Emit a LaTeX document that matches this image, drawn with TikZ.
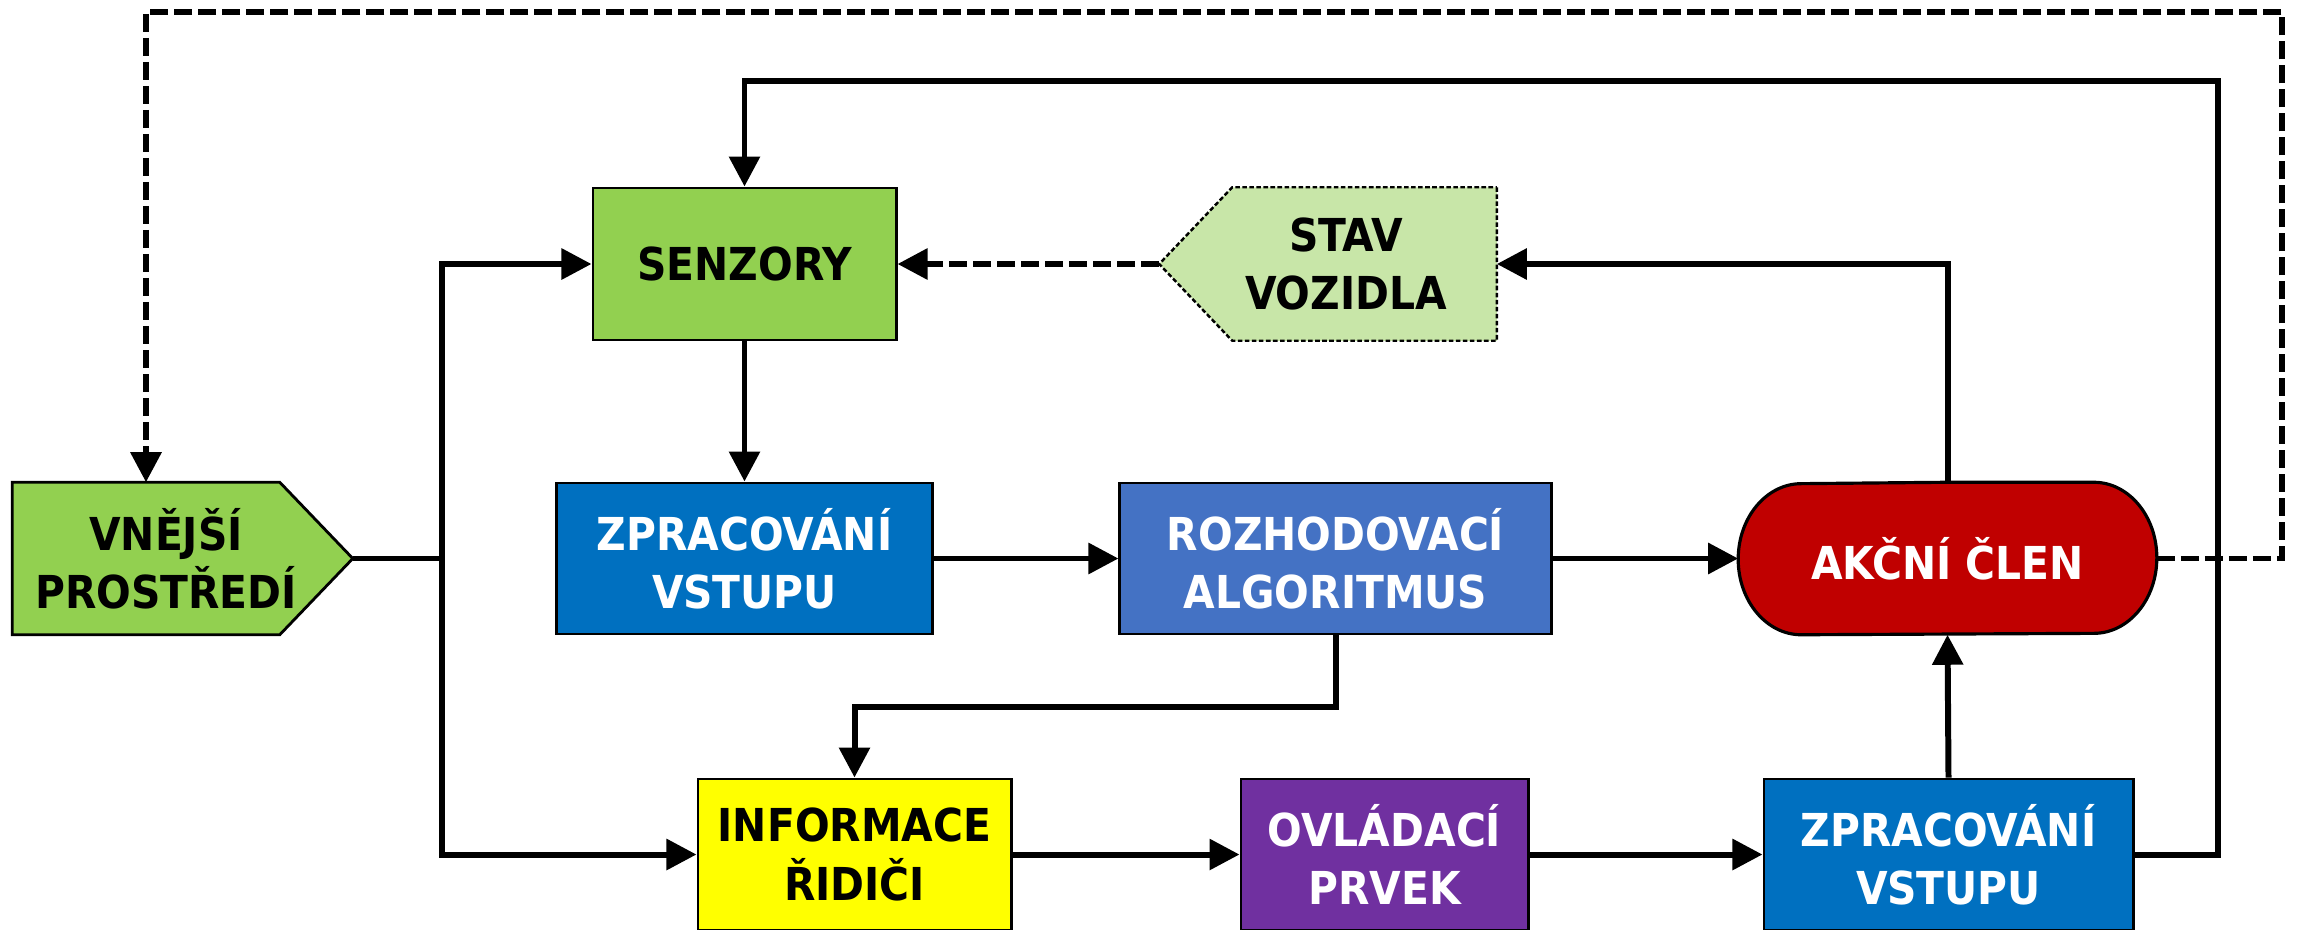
\documentclass[tikz,border=0pt]{standalone}
\usepackage{fontspec}
\setmainfont{DejaVu Sans Condensed Bold}
\usetikzlibrary{arrows.meta,backgrounds}

\definecolor{sensgreen}{HTML}{92D050}
\definecolor{stategreen}{HTML}{C8E6A8}
\definecolor{procblue}{HTML}{0070C0}
\definecolor{algblue}{HTML}{4472C4}
\definecolor{actred}{HTML}{C00000}
\definecolor{infoyellow}{HTML}{FFFF00}
\definecolor{ctrlpurple}{HTML}{7030A0}

\newcommand\diagfont{\fontsize{12.9pt}{16.6pt}\selectfont}

\tikzset{
  box/.style={draw=black, line width=0.8pt, inner sep=0pt, minimum height=1.51cm,
              align=center, font=\diagfont},
  ghost/.style={inner sep=0pt, minimum height=1.51cm},
  label text/.style={inner sep=0pt, align=center, font=\diagfont},
  conn/.style={line width=1.7pt, -{Triangle[length=0.3cm,width=0.3cm]}},
  dconn/.style={conn, dash pattern=on 0.18cm off 0.06cm},
  plain/.style={line width=1.7pt},
}

\begin{document}
\begin{tikzpicture}[x=0.01cm, y=0.01cm]
\useasboundingbox (0,0) rectangle (2297,929);

% top row
\node[box, fill=sensgreen, minimum width=3.03cm, minimum height=1.52cm] (senz) at (744.5,665) {SENZORY};
\node[ghost, minimum width=3.36cm, minimum height=1.52cm] (stav) at (1328,665) {};
\node[label text] (stavtxt) at (1346,665) {STAV\\VOZIDLA};

% middle row
\node[ghost, minimum width=3.39cm] (vn) at (182.5,370.5) {};
\node[label text] (vntxt) at (166,370.5) {VNĚJŠÍ\\PROSTŘEDÍ};
\node[box, fill=procblue, text=white, minimum width=3.75cm] (zp1) at (744.5,370.5) {ZPRACOVÁNÍ\\VSTUPU};
\node[box, fill=algblue, text=white, minimum width=4.31cm] (rozh) at (1335.5,370.5) {ROZHODOVACÍ\\ALGORITMUS};
\node[ghost, label text, text=white, minimum width=4.17cm, minimum height=1.51cm] (akc) at (1947.5,370.5) {AKČNÍ ČLEN};

% bottom row
\node[box, fill=infoyellow, minimum width=3.13cm] (info) at (854.5,74.5) {INFORMACE\\ŘIDIČI};
\node[box, fill=ctrlpurple, text=white, minimum width=2.87cm] (ovl) at (1384.5,74.5) {OVLÁDACÍ\\PRVEK};
\node[box, fill=procblue, text=white, minimum width=3.69cm] (zp2) at (1948.5,74.5) {ZPRACOVÁNÍ\\VSTUPU};

% outlined shapes behind the labels
\begin{pgfonlayer}{background}
  \draw[fill=stategreen, line width=0.7pt, dash pattern=on 1.3pt off 0.7pt]
    (stav.north east) -- (stav.south east) -- ([xshift=0.73cm]stav.south west)
    -- (stav.west) -- ([xshift=0.73cm]stav.north west) -- cycle;
  \draw[fill=sensgreen, line width=0.8pt]
    (vn.north west) -- ([xshift=-0.73cm]vn.north east) -- (vn.east)
    -- ([xshift=-0.73cm]vn.south east) -- (vn.south west) -- cycle;
  \draw[fill=actred, line width=0.9pt, line join=round]
    (akc.north) -- ([xshift=-0.63cm]akc.north east)
    arc[start angle=90, end angle=-90, x radius=0.63cm, y radius=0.755cm]
    -- ([xshift=0.63cm]akc.south west)
    arc[start angle=270, end angle=90, x radius=0.63cm, y radius=0.755cm] -- cycle;
\end{pgfonlayer}

% routing points
\coordinate (bus) at (442,370.5);
\coordinate (jog) at (1335.5,222);
\coordinate (rloop) at (2218,848);
\coordinate (dright) at (2282,917);
\coordinate (dleft) at (146,917);

% connectors
\draw[plain] (vn.east) -- (bus);
\draw[conn] (bus) |- (senz.west);
\draw[conn] (bus) |- (info.west);
\draw[conn] (senz.south) -- (zp1.north);
\draw[conn] (zp1.east) -- (rozh.west);
\draw[conn] (rozh.east) -- (akc.west);
\draw[conn] (rozh.south) -- (jog) -| (info.north);
\draw[conn] (info.east) -- (ovl.west);
\draw[conn] (ovl.east) -- (zp2.west);
\draw[conn] (zp2.north) -- (akc.south);
\draw[conn] (zp2.east) -| (rloop) -| (senz.north);
\draw[conn] (akc.north) |- (stav.east);
\draw[dconn] (stav.west) -- (senz.east);
\draw[dconn] (akc.east) -| (dright) -- (dleft) -- (dleft |- vn.north);
\end{tikzpicture}
\end{document}
